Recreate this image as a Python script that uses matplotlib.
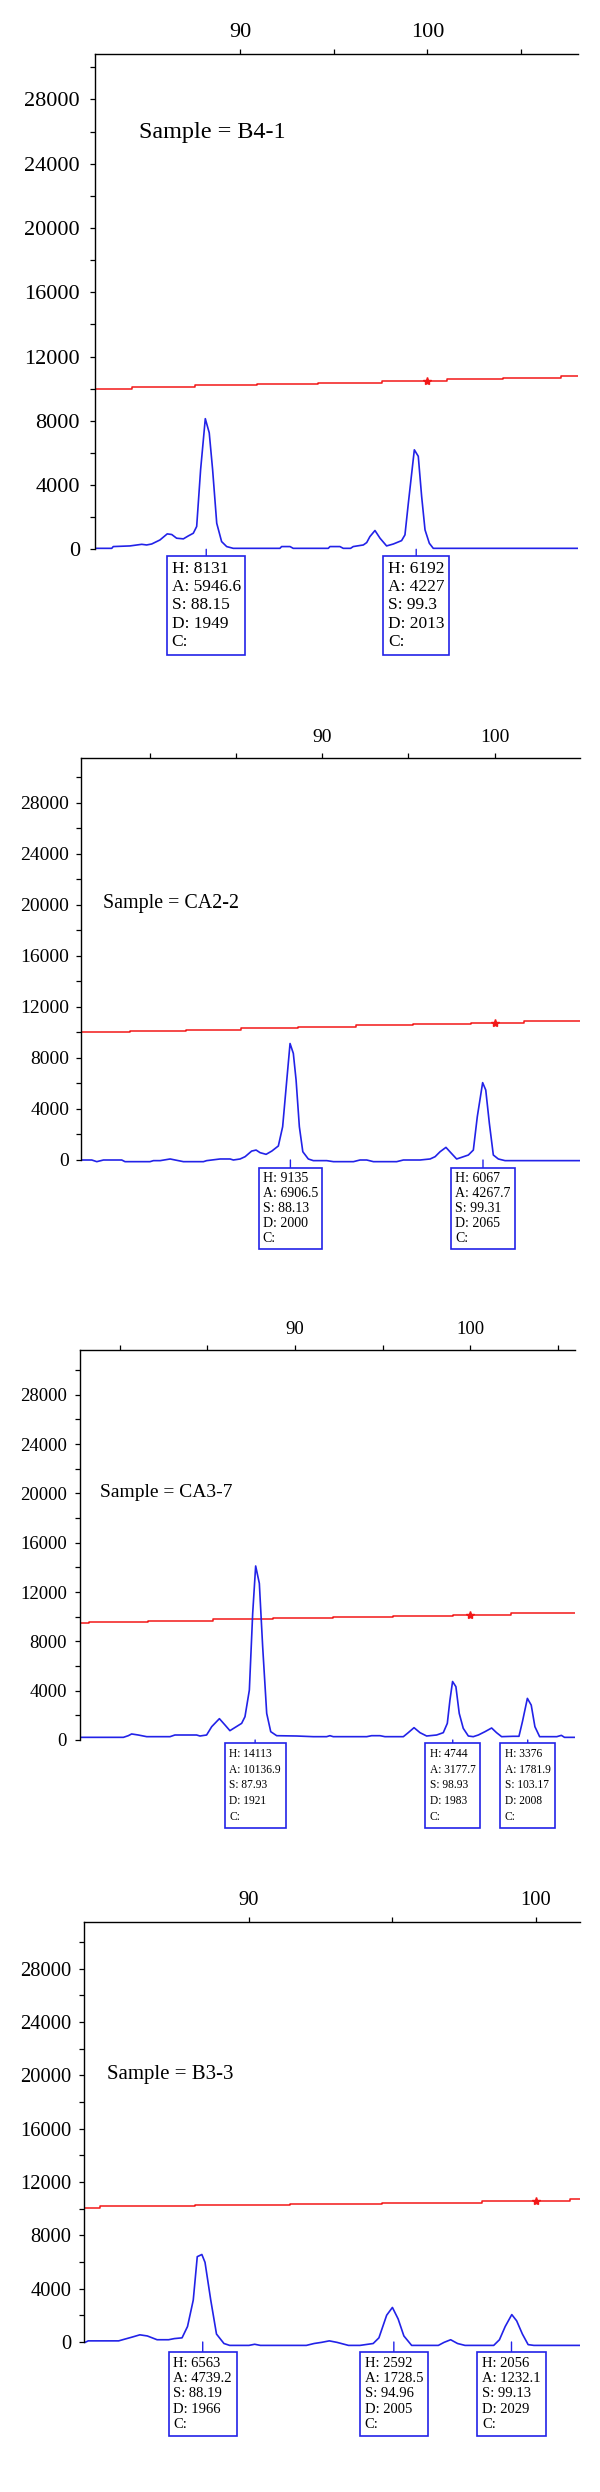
"""Four capillary electrophoresis traces (size vs. signal) with peak boxes."""

import matplotlib

matplotlib.use("Agg")
import matplotlib.pyplot as plt

W_PX, H_PX = 600, 2492
BLUE = "#2222e8"
RED = "#f21818"
SERIF = ["Liberation Serif", "DejaVu Serif"]

plt.rcParams["font.family"] = SERIF

# ---- sample B4-1 ---------------------------------------------------------
B41_NAME = "Sample = B4-1"
B41_SIZE = [82.21, 83.16, 83.24, 84.13, 84.76, 85.02, 85.29, 85.73, 86.12,
            86.36, 86.62, 86.98, 87.24, 87.51, 87.69, 87.90, 88.15, 88.36,
            88.54, 88.76, 89.02, 89.29, 89.64, 92.13, 92.22, 92.67, 92.84,
            94.71, 94.80, 95.33, 95.51, 95.90, 96.04, 96.58, 96.76, 96.93,
            97.20, 97.47, 97.82, 98.18, 98.62, 98.80, 98.98, 99.30, 99.51,
            99.69, 99.87, 100.10, 100.31, 108.03]
B41_RFU = [60, 60, 170, 210, 310, 270, 330, 580, 960,
           920, 690, 650, 830, 1000, 1420, 4960, 8131, 7250,
           4960, 1620, 480, 170, 60, 60, 170, 170, 60,
           60, 170, 170, 60, 60, 170, 270, 420, 790,
           1170, 690, 210, 330, 540, 900, 2870, 6192, 5790,
           3290, 1210, 375, 60, 60]
B41_RED_SIZE = [82.24, 84.22, 87.6, 90.89, 94.18, 97.56, 101.02, 104.04, 107.1, 108.03]
B41_RED_RFU = [10000, 10080, 10200, 10290, 10370, 10500, 10580, 10690, 10770, 10770]
B41_STAR = (100.0, 10500)
B41_PEAKS = [88.2, 99.4]
B41_LABELS = ["H: 8131\nA: 5946.6\nS: 88.15\nD: 1949\nC:",
              "H: 6192\nA: 4227\nS: 99.3\nD: 2013\nC:"]
B41_XTICKS = [90, 95, 100, 105]

# ---- sample CA2-2 --------------------------------------------------------
CA22_NAME = "Sample = CA2-2"
CA22_SIZE = [76.04, 76.62, 76.91, 77.30, 78.36, 78.55, 80.0, 80.2, 80.59,
             81.17, 81.46, 81.94, 83.1, 83.29, 84.07, 84.65, 84.84, 85.23,
             85.52, 85.9, 86.16, 86.39, 86.74, 87.07, 87.45, 87.7, 87.94,
             88.13, 88.32, 88.48, 88.67, 88.87, 89.19, 89.48, 90.26, 90.65,
             91.81, 92.19, 92.58, 92.97, 94.32, 94.71, 95.68, 96.26, 96.55,
             96.84, 97.18, 97.46, 97.8, 98.09, 98.48, 98.77, 99.0, 99.31,
             99.49, 99.7, 99.93, 100.22, 100.61, 104.95]
CA22_RFU = [0, 0, -130, 0, 0, -130, -130, -50, -50,
            80, 0, -130, -130, -50, 80, 80, 0, 80,
            260, 700, 780, 575, 445, 700, 1100, 2610, 6270,
            9135, 8360, 6270, 2610, 650, 80, -50, -50, -130,
            -130, 0, 0, -130, -130, 0, 0, 80, 260,
            650, 990, 575, 80, 210, 390, 780, 3400, 6067,
            5490, 2875, 390, 80, -50, -50]
CA22_RED_SIZE = [76.0, 78.85, 82.07, 85.29, 88.62, 91.95, 95.29, 98.62, 101.73, 104.95]
CA22_RED_RFU = [10000, 10110, 10220, 10330, 10440, 10550, 10660, 10770, 10880, 10880]
CA22_STAR = (100.0, 10770)
CA22_PEAKS = [88.15, 99.33]
CA22_LABELS = ["H: 9135\nA: 6906.5\nS: 88.13\nD: 2000\nC:",
               "H: 6067\nA: 4267.7\nS: 99.31\nD: 2065\nC:"]
CA22_XTICKS = [80, 85, 90, 95, 100]

# ---- sample CA3-7 --------------------------------------------------------
CA37_NAME = "Sample = CA3-7"
CA37_SIZE = [77.72, 80.2, 80.48, 80.67, 81.05, 81.53, 82.86, 83.14, 84.38,
             84.57, 84.95, 85.24, 85.68, 86.0, 86.28, 86.95, 87.14, 87.39,
             87.58, 87.75, 87.96, 88.15, 88.38, 88.61, 88.95, 90.09, 91.04,
             91.8, 91.99, 92.18, 94.09, 94.37, 94.85, 95.13, 96.18, 96.46,
             96.79, 97.13, 97.51, 98.08, 98.46, 98.69, 98.84, 98.99, 99.18,
             99.37, 99.6, 99.89, 100.17, 100.46, 100.84, 101.22, 101.5, 101.79,
             102.43, 102.78, 102.98, 103.26, 103.48, 103.69, 103.96, 104.94,
             105.2, 105.38, 105.99]
CA37_RFU = [216, 216, 350, 490, 405, 270, 270, 405, 405,
            324, 405, 1080, 1730, 1216, 757, 1350, 1890, 4050,
            10270, 14113, 12700, 7570, 2160, 675, 350, 324, 270,
            270, 350, 270, 270, 350, 350, 270, 270, 595,
            1000, 595, 324, 405, 595, 1350, 3240, 4744, 4325,
            2160, 946, 324, 270, 405, 675, 973, 595, 270,
            300, 300, 1500, 3376, 2830, 1080, 270, 270,
            377, 215, 215]
CA37_RED_SIZE = [77.7, 78.26, 81.62, 85.33, 88.76, 92.18, 95.61, 99.03, 102.32, 105.99]
CA37_RED_RFU = [9460, 9570, 9680, 9790, 9900, 10000, 10080, 10160, 10260, 10260]
CA37_STAR = (100.0, 10160)
CA37_PEAKS = [87.72, 99.0, 103.28]
CA37_LABELS = ["H: 14113\nA: 10136.9\nS: 87.93\nD: 1921\nC:",
               "H: 4744\nA: 3177.7\nS: 98.93\nD: 1983\nC:",
               "H: 3376\nA: 1781.9\nS: 103.17\nD: 2008\nC:"]
CA37_XTICKS = [80, 85, 90, 95, 100, 105]

# ---- sample B3-3 ---------------------------------------------------------
B33_NAME = "Sample = B3-3"
B33_SIZE = [84.29, 84.4, 85.46, 85.6, 85.93, 86.2, 86.46, 86.8, 87.2,
            87.4, 87.67, 87.86, 88.06, 88.2, 88.36, 88.47, 88.67, 88.87,
            89.13, 89.33, 90.0, 90.2, 90.4, 92.0, 92.27, 92.53, 92.8,
            93.07, 93.47, 93.87, 94.33, 94.53, 94.8, 95.0, 95.2, 95.4,
            95.67, 96.6, 96.8, 97.03, 97.27, 97.53, 98.53, 98.73, 98.93,
            99.16, 99.33, 99.53, 99.73, 99.93, 101.53]
B33_RFU = [-28, 85, 85, 170, 368, 538, 453, 170, 170,
           255, 312, 1160, 3140, 6400, 6563, 5975, 3140, 595,
           -113, -255, -255, -170, -255, -255, -113, -28, 85,
           -28, -255, -255, -113, 312, 2010, 2592, 1727, 453,
           -255, -255, -28, 170, -113, -255, -255, 170, 1160,
           2056, 1586, 595, -198, -255, -255]
B33_RED_SIZE = [84.26, 84.82, 88.13, 91.44, 94.63, 98.11, 101.2, 101.53]
B33_RED_RFU = [10050, 10180, 10280, 10380, 10450, 10580, 10700, 10700]
B33_STAR = (100.0, 10580)
B33_PEAKS = [88.39, 95.05, 99.15]
B33_LABELS = ["H: 6563\nA: 4739.2\nS: 88.19\nD: 1966\nC:",
              "H: 2592\nA: 1728.5\nS: 94.96\nD: 2005\nC:",
              "H: 2056\nA: 1232.1\nS: 99.13\nD: 2029\nC:"]
B33_XTICKS = [90, 95, 100]

Y_MAJOR = [0, 4000, 8000, 12000, 16000, 20000, 24000, 28000]
Y_MINOR = [2000, 6000, 10000, 14000, 18000, 22000, 26000, 30000]
LABELLED_X = [90, 100]

# layout in output pixels: left, right, top of frame, pixel row of signal 0
PANELS = [
    dict(data=(B41_NAME, B41_SIZE, B41_RFU, B41_RED_SIZE, B41_RED_RFU,
               B41_STAR, B41_PEAKS, B41_LABELS, B41_XTICKS),
         frame=(94.5, 578.0, 54.3, 549.3), ymax=30810, xlim=(82.24, 108.03),
         tick_fs=16, ypad=7.0, name_xy=(84.59, 25600), name_fs=17.4,
         box_fs=12.5, box_ls=1.2, box_pad=0.26, box_gap=6.7),
    dict(data=(CA22_NAME, CA22_SIZE, CA22_RFU, CA22_RED_SIZE, CA22_RED_RFU,
               CA22_STAR, CA22_PEAKS, CA22_LABELS, CA22_XTICKS),
         frame=(81.1, 579.8, 757.7, 1160.0), ymax=31550, xlim=(76.0, 104.95),
         tick_fs=14, ypad=4.8, name_xy=(77.25, 19740), name_fs=14.4,
         box_fs=10, box_ls=1.2, box_pad=0.29, box_gap=8.3),
    dict(data=(CA37_NAME, CA37_SIZE, CA37_RFU, CA37_RED_SIZE, CA37_RED_RFU,
               CA37_STAR, CA37_PEAKS, CA37_LABELS, CA37_XTICKS),
         frame=(79.6, 575.2, 1350.0, 1740.0), ymax=31630, xlim=(77.7, 105.99),
         tick_fs=13.5, ypad=5.5, name_xy=(78.88, 19730), name_fs=14,
         box_fs=8.3, box_ls=1.42, box_pad=0.4, box_gap=3.3),
    dict(data=(B33_NAME, B33_SIZE, B33_RFU, B33_RED_SIZE, B33_RED_RFU,
               B33_STAR, B33_PEAKS, B33_LABELS, B33_XTICKS),
         frame=(84.2, 579.8, 1921.5, 2342.0), ymax=31540, xlim=(84.26, 101.53),
         tick_fs=14.8, ypad=5.8, name_xy=(85.04, 19700), name_fs=15,
         box_fs=10.5, box_ls=1.22, box_pad=0.33, box_gap=10.2),
]
Y_MIN = -400


def draw_panel(fig, panel):
    name, size, rfu, red_size, red_rfu, star, peaks, labels, xticks = panel["data"]
    left, right, top, zero = panel["frame"]
    ymax = panel["ymax"]
    px_per_unit = (zero - top) / ymax
    bottom = zero - Y_MIN * px_per_unit
    ax = fig.add_axes([left / W_PX, 1 - bottom / H_PX,
                       (right - left) / W_PX, (bottom - top) / H_PX])
    ax.set_xlim(*panel["xlim"])
    ax.set_ylim(Y_MIN, ymax)

    ax.plot(red_size, red_rfu, drawstyle="steps-post", color=RED, lw=1.1)
    ax.plot([star[0]], [star[1]], marker="*", ms=6, color=RED, lw=0)
    ax.plot(size, rfu, color=BLUE, lw=1.2)

    for side in ("right", "bottom"):
        ax.spines[side].set_visible(False)
    for side in ("left", "top"):
        ax.spines[side].set_linewidth(1.0)
    ax.spines["left"].set_bounds(0, ymax)

    ax.xaxis.tick_top()
    ax.set_xticks(xticks)
    ax.set_xticklabels([str(t) if t in LABELLED_X else "" for t in xticks])
    ax.set_yticks(Y_MAJOR)
    ax.set_yticks(Y_MINOR, minor=True)
    ax.tick_params(axis="both", which="both", direction="out", length=3.6,
                   width=0.9, labelsize=panel["tick_fs"])
    ax.tick_params(axis="x", pad=5)
    ax.tick_params(axis="y", pad=panel["ypad"])

    ax.text(*panel["name_xy"], name, fontsize=panel["name_fs"], va="baseline")

    fs = panel["box_fs"]
    offset = panel["box_gap"] * 0.72 + panel["box_pad"] * fs
    for x, text in zip(peaks, labels):
        ax.annotate(text, xy=(x, 0), xycoords="data",
                    xytext=(0, -offset), textcoords="offset points",
                    ha="center", va="top", multialignment="left",
                    fontsize=fs, linespacing=panel["box_ls"],
                    bbox=dict(boxstyle=f"square,pad={panel['box_pad']}",
                              fc="white", ec=BLUE, lw=1.2),
                    arrowprops=dict(arrowstyle="-", color=BLUE, lw=1.0,
                                    shrinkA=0, shrinkB=0),
                    annotation_clip=False)
    return ax


def main():
    fig = plt.figure(figsize=(W_PX / 100, H_PX / 100), dpi=100)
    for panel in PANELS:
        draw_panel(fig, panel)
    fig.savefig("out.png", dpi=100, facecolor="white")
    plt.close(fig)


if __name__ == "__main__":
    main()
